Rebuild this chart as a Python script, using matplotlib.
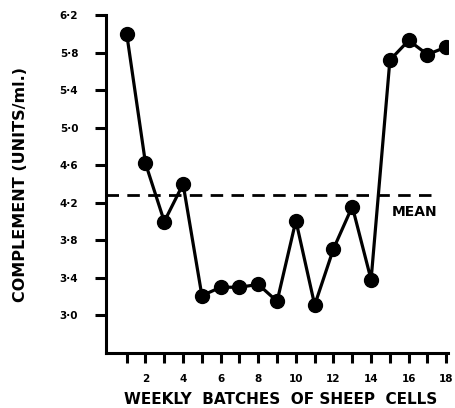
import matplotlib
matplotlib.use("Agg")
import matplotlib.pyplot as plt

# weekly batch number and complement titre (units/ml.)
batches = list(range(1, 19))
complement = [6.00, 4.62, 4.00, 4.40, 3.21, 3.30, 3.30, 3.33, 3.15,
              4.01, 3.11, 3.71, 4.16, 3.38, 5.72, 5.93, 5.78, 5.86]
mean_value = 4.28

y_ticks = [3.0, 3.4, 3.8, 4.2, 4.6, 5.0, 5.4, 5.8, 6.2]
y_tick_labels = ["3·0", "3·4", "3·8", "4·2", "4·6", "5·0", "5·4", "5·8", "6·2"]
x_label_ticks = [2, 4, 6, 8, 10, 12, 14, 16, 18]

plt.rcParams["font.family"] = ["DejaVu Sans"]
plt.rcParams["font.weight"] = "bold"

fig = plt.figure(figsize=(4.55, 4.08), dpi=100)
ax = fig.add_axes([0.233, 0.135, 0.752, 0.828])

# mean line first so the data sits on top
ax.plot([-0.1, 17.4], [mean_value, mean_value], color="black", lw=2.0,
        linestyle=(0, (4.5, 3)), zorder=1)
ax.text(16.3, 4.1, "MEAN", ha="center", va="center", fontsize=10,
        fontweight="bold")

ax.plot(batches, complement, color="black", lw=2.3, marker="o",
        markersize=10, zorder=3)

ax.set_xlim(-0.1, 18.1)
ax.set_ylim(2.6, 6.2)

for side in ("top", "right"):
    ax.spines[side].set_visible(False)
for side in ("left", "bottom"):
    ax.spines[side].set_linewidth(2.2)

ax.set_yticks(y_ticks)
ax.set_yticklabels(y_tick_labels, fontsize=7.5, fontweight="bold")
ax.set_xticks(batches)
ax.set_xticklabels([str(b) if b in x_label_ticks else "" for b in batches],
                   fontsize=7.5, fontweight="bold")
ax.tick_params(axis="y", direction="out", length=8, width=2.2, pad=12)
ax.tick_params(axis="x", direction="out", length=7, width=2.2, pad=8)

ax.set_ylabel("COMPLEMENT (UNITS/ml.)", fontsize=11.5, fontweight="bold")
ax.yaxis.set_label_coords(-0.228, 0.5)
ax.set_xlabel("WEEKLY  BATCHES  OF SHEEP  CELLS", fontsize=11,
              fontweight="bold", va="center")
ax.xaxis.set_label_coords(0.51, -0.139)

fig.savefig("out.png", dpi=100)
